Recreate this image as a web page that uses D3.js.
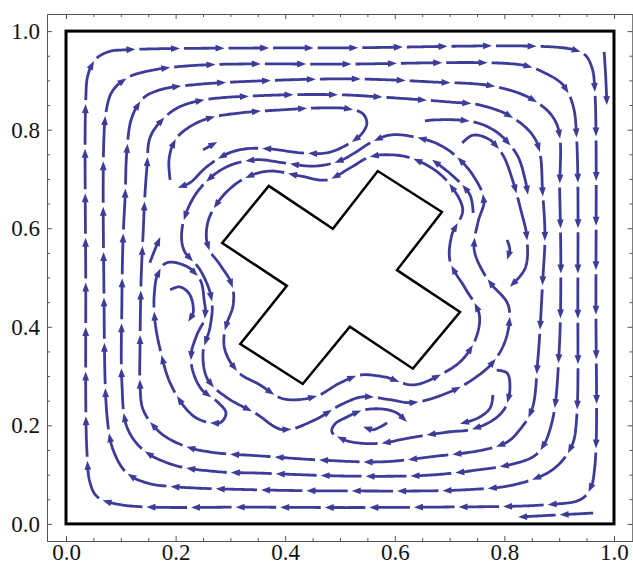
<!DOCTYPE html>
<html>
<head>
<meta charset="utf-8">
<script src="https://cdn.jsdelivr.net/npm/d3@7"></script>
<style>
  html, body { margin: 0; padding: 0; background: #ffffff; }
  svg { display: block; }
</style>
</head>
<body>
<svg id="chart" width="633" height="569"></svg>
<script>
// ---- tick values -------------------------------------------------------
const majorTicks = [0, 0.2, 0.4, 0.6, 0.8, 1.0];
const minorTicks = [0.05, 0.1, 0.15, 0.25, 0.3, 0.35, 0.45, 0.5, 0.55, 0.65, 0.7, 0.75, 0.85, 0.9, 0.95];

// ---- obstacle (cross) outline ------------------------------------------
const obstacle = [
  [0.370, 0.686], [0.487, 0.599], [0.569, 0.716], [0.686, 0.633],
  [0.604, 0.515], [0.719, 0.430], [0.633, 0.315], [0.518, 0.400],
  [0.432, 0.284], [0.318, 0.365], [0.403, 0.483], [0.285, 0.570]
];

// ---- streamlines (ordered along the flow) ------------------------------
const outerRing1 = [[0.036,0.495],[0.036,0.860],[0.040,0.911],[0.053,0.942],[0.077,0.958],[0.108,0.962],[0.500,0.966],[0.920,0.964],[0.947,0.952],[0.960,0.925],[0.965,0.881],[0.967,0.455],[0.965,0.116],[0.956,0.069],[0.938,0.049],[0.878,0.039],[0.664,0.034],[0.354,0.034],[0.099,0.039],[0.057,0.055],[0.044,0.083],[0.038,0.150]];
const outerRing2 = [[0.069,0.495],[0.069,0.779],[0.073,0.836],[0.084,0.877],[0.111,0.905],[0.159,0.921],[0.245,0.931],[0.500,0.933],[0.834,0.931],[0.870,0.917],[0.907,0.891],[0.925,0.850],[0.932,0.779],[0.934,0.455],[0.932,0.217],[0.925,0.164],[0.907,0.130],[0.878,0.103],[0.816,0.079],[0.724,0.069],[0.500,0.067],[0.354,0.069],[0.203,0.075],[0.148,0.083],[0.111,0.103],[0.086,0.150],[0.075,0.217]];
const outerRing3 = [[0.102,0.455],[0.104,0.576],[0.108,0.668],[0.111,0.755],[0.120,0.824],[0.141,0.864],[0.172,0.881],[0.232,0.891],[0.354,0.899],[0.518,0.903],[0.664,0.897],[0.786,0.887],[0.859,0.856],[0.896,0.810],[0.901,0.668],[0.903,0.495],[0.900,0.353],[0.889,0.217],[0.870,0.156],[0.852,0.136],[0.810,0.120],[0.755,0.110],[0.664,0.099],[0.518,0.097],[0.354,0.103],[0.276,0.106],[0.195,0.120],[0.141,0.150],[0.111,0.197],[0.102,0.286]];
const outerRing4 = [[0.135,0.353],[0.137,0.495],[0.141,0.597],[0.144,0.668],[0.148,0.728],[0.153,0.783],[0.172,0.816],[0.203,0.844],[0.250,0.860],[0.354,0.869],[0.495,0.871],[0.578,0.866],[0.701,0.856],[0.755,0.850],[0.816,0.824],[0.859,0.775],[0.870,0.668],[0.874,0.582],[0.870,0.495],[0.861,0.333],[0.850,0.231],[0.828,0.191],[0.805,0.166],[0.761,0.150],[0.664,0.136],[0.578,0.126],[0.458,0.130],[0.354,0.138],[0.276,0.144],[0.221,0.156],[0.172,0.185],[0.141,0.231],[0.135,0.286]];
const cornerTopRight = [[0.982,0.958],[0.985,0.905],[0.987,0.850]];
const cornerBottomRight = [[0.962,0.022],[0.894,0.018],[0.825,0.014]];

const upperLeftEddy = [[0.190,0.698],[0.188,0.739],[0.199,0.779],[0.226,0.806],[0.263,0.824],[0.318,0.834],[0.391,0.840],[0.464,0.844],[0.518,0.842],[0.542,0.832],[0.549,0.812],[0.536,0.787],[0.509,0.767],[0.476,0.753],[0.427,0.753],[0.372,0.761],[0.327,0.761],[0.290,0.749],[0.254,0.722],[0.226,0.692],[0.204,0.682]];
const upperLeftCore = [[0.250,0.759],[0.263,0.767],[0.276,0.775]];
const upperRightArc = [[0.655,0.818],[0.677,0.820],[0.743,0.816],[0.786,0.795],[0.823,0.749],[0.838,0.698],[0.843,0.668]];
const upperRightHook = [[0.723,0.773],[0.743,0.789],[0.774,0.779],[0.797,0.749],[0.816,0.694],[0.830,0.637],[0.841,0.582],[0.838,0.519],[0.810,0.481]];
const rightEddyCore = [[0.805,0.576],[0.810,0.556],[0.805,0.536]];
const rightInnerDash = [[0.743,0.631],[0.737,0.668],[0.704,0.708],[0.668,0.739]];

const leftEddy = [[0.184,0.530],[0.221,0.522],[0.245,0.495],[0.252,0.455],[0.254,0.420],[0.239,0.384],[0.228,0.343],[0.232,0.308],[0.248,0.272],[0.276,0.248],[0.292,0.225],[0.281,0.205],[0.245,0.211],[0.221,0.231],[0.190,0.286],[0.172,0.353],[0.162,0.414],[0.161,0.465],[0.168,0.509]];
const leftEddyCore = [[0.190,0.475],[0.208,0.481],[0.226,0.465],[0.232,0.428],[0.223,0.410]];
const leftDash = [[0.153,0.530],[0.162,0.556],[0.172,0.582]];

const lowerEddy = [[0.786,0.312],[0.805,0.306],[0.810,0.272],[0.801,0.235],[0.777,0.209],[0.737,0.191],[0.701,0.187],[0.651,0.179],[0.615,0.172],[0.578,0.164],[0.536,0.164],[0.504,0.172],[0.485,0.187],[0.491,0.203],[0.513,0.217],[0.542,0.231],[0.578,0.233],[0.604,0.225],[0.622,0.207]];
const lowerRightArc = [[0.779,0.262],[0.774,0.235],[0.752,0.215],[0.719,0.203]];
const lowerEddyCore = [[0.586,0.205],[0.560,0.191],[0.542,0.197]];

const innerLoop1 = [[0.724,0.637],[0.701,0.688],[0.673,0.718],[0.628,0.743],[0.591,0.749],[0.555,0.745],[0.518,0.722],[0.476,0.698],[0.427,0.706],[0.372,0.716],[0.327,0.702],[0.285,0.664],[0.259,0.613],[0.259,0.562],[0.281,0.526],[0.303,0.485],[0.305,0.444],[0.290,0.394],[0.290,0.353],[0.314,0.308],[0.354,0.282],[0.396,0.254],[0.454,0.258],[0.500,0.286],[0.536,0.302],[0.582,0.298],[0.633,0.282],[0.682,0.302],[0.723,0.333],[0.748,0.377],[0.754,0.426],[0.728,0.479],[0.701,0.532],[0.704,0.586]];
const innerLoop2 = [[0.763,0.657],[0.748,0.698],[0.719,0.739],[0.682,0.769],[0.637,0.785],[0.591,0.789],[0.555,0.773],[0.527,0.753],[0.496,0.735],[0.451,0.726],[0.396,0.733],[0.345,0.739],[0.296,0.726],[0.259,0.698],[0.230,0.657],[0.212,0.601],[0.215,0.556],[0.245,0.515],[0.266,0.455],[0.263,0.400],[0.250,0.347],[0.259,0.292],[0.294,0.256],[0.345,0.225],[0.396,0.191],[0.454,0.211],[0.500,0.241],[0.542,0.258],[0.591,0.252],[0.633,0.246],[0.701,0.268],[0.746,0.296],[0.783,0.333],[0.805,0.384],[0.807,0.444],[0.770,0.495],[0.745,0.556],[0.752,0.613]];

const streamlines = [
  { pts: outerRing1, closed: true },
  { pts: outerRing2, closed: true },
  { pts: outerRing3, closed: true },
  { pts: outerRing4, closed: true },
  { pts: cornerTopRight, closed: false },
  { pts: cornerBottomRight, closed: false },
  { pts: upperLeftEddy, closed: false },
  { pts: upperLeftCore, closed: false },
  { pts: upperRightArc, closed: false },
  { pts: upperRightHook, closed: false },
  { pts: rightEddyCore, closed: false },
  { pts: rightInnerDash, closed: false },
  { pts: leftEddy, closed: true },
  { pts: leftEddyCore, closed: false },
  { pts: leftDash, closed: false },
  { pts: lowerEddy, closed: false },
  { pts: lowerRightArc, closed: false },
  { pts: lowerEddyCore, closed: false },
  { pts: innerLoop1, closed: true },
  { pts: innerLoop2, closed: true }
];

// ---- layout ------------------------------------------------------------
const svg = d3.select("#chart");
const plotDomain = [-0.0347, 1.0347];
const x = d3.scaleLinear().domain(plotDomain).range([47, 633]);
const y = d3.scaleLinear().domain(plotDomain).range([541, 14]);

const STREAM_COLOR = "#3d3d99";
const PERIOD = 45;   // arrow spacing along a streamline (px)
const GAP = 4;       // blank between consecutive arrows
const HEAD = 9;      // arrowhead length
const HW = 3.4;      // arrowhead half width

const streamLayer = svg.append("g").attr("class", "streams");

function guideGenerator(closed) {
  return d3.line()
    .x(d => x(d[0]))
    .y(d => y(d[1]))
    .curve(closed ? d3.curveCatmullRomClosed.alpha(0.5) : d3.curveCatmullRom.alpha(0.5));
}
const pixelLine = d3.line().x(p => p.x).y(p => p.y);

function drawStreamline(line, k) {
  const guide = streamLayer.append("path")
    .attr("d", guideGenerator(line.closed)(line.pts))
    .attr("fill", "none").attr("stroke", "none");
  const node = guide.node();
  const L = node.getTotalLength();
  const n = Math.max(1, Math.round(L / PERIOD));
  const seg = L / n;
  const shift = line.closed ? ((k * 0.618) % 1) * seg : 0;
  const at = s => {
    const t = line.closed ? ((s % L) + L) % L : Math.max(0, Math.min(L, s));
    return node.getPointAtLength(t);
  };
  for (let i = 0; i < n; i++) {
    const s0 = shift + i * seg;
    const s1 = (!line.closed && i === n - 1) ? L : s0 + seg - GAP;
    const bodyEnd = Math.max(s0, s1 - HEAD * 0.7);
    const body = [];
    for (let s = s0; s < bodyEnd; s += 2) body.push(at(s));
    body.push(at(bodyEnd));
    streamLayer.append("path")
      .attr("d", pixelLine(body))
      .attr("fill", "none")
      .attr("stroke", STREAM_COLOR)
      .attr("stroke-width", 2.8)
      .attr("stroke-linecap", "butt");
    const tip = at(s1), back = at(s1 - HEAD);
    let dx = tip.x - back.x, dy = tip.y - back.y;
    const len = Math.hypot(dx, dy) || 1;
    dx /= len; dy /= len;
    const bx = tip.x - dx * HEAD, by = tip.y - dy * HEAD;
    streamLayer.append("path")
      .attr("d", `M${tip.x},${tip.y}L${bx - dy * HW},${by + dx * HW}L${bx + dy * HW},${by - dx * HW}Z`)
      .attr("fill", STREAM_COLOR);
  }
  guide.remove();
}

streamlines.forEach((line, k) => drawStreamline(line, k));

// ---- obstacle and region boundary --------------------------------------
svg.append("path")
  .attr("d", d3.line().x(d => x(d[0])).y(d => y(d[1])).curve(d3.curveLinearClosed)(obstacle))
  .attr("fill", "#ffffff")
  .attr("stroke", "#000000")
  .attr("stroke-width", 2.5)
  .attr("stroke-linejoin", "miter");

svg.append("rect")
  .attr("x", x(0)).attr("y", y(1))
  .attr("width", x(1) - x(0)).attr("height", y(0) - y(1))
  .attr("fill", "none")
  .attr("stroke", "#000000")
  .attr("stroke-width", 3);

// ---- frame with inward ticks -------------------------------------------
const FRAME = "#555555";
const fmt = d3.format(".1f");
function styleAxis(g) {
  g.selectAll("path.domain").attr("stroke", FRAME).attr("stroke-width", 1);
  g.selectAll(".tick line").attr("stroke", FRAME).attr("stroke-width", 1);
  g.selectAll("text")
    .attr("fill", "#111111")
    .style("font-family", "'Liberation Serif', 'Times New Roman', serif")
    .style("font-size", "23px");
}
const frame = svg.append("g").attr("class", "frame");

frame.append("g").attr("transform", `translate(${x.range()[0]},0)`)
  .call(d3.axisLeft(y).tickValues(majorTicks).tickFormat(fmt).tickSizeInner(-5).tickSizeOuter(0).tickPadding(7))
  .call(styleAxis);
frame.append("g").attr("transform", `translate(${x.range()[0]},0)`)
  .call(d3.axisLeft(y).tickValues(minorTicks).tickFormat("").tickSizeInner(-3).tickSizeOuter(0))
  .call(styleAxis);

frame.append("g").attr("transform", `translate(0,${y.range()[0]})`)
  .call(d3.axisBottom(x).tickValues(majorTicks).tickFormat(fmt).tickSizeInner(-5).tickSizeOuter(0).tickPadding(3))
  .call(styleAxis);
frame.append("g").attr("transform", `translate(0,${y.range()[0]})`)
  .call(d3.axisBottom(x).tickValues(minorTicks).tickFormat("").tickSizeInner(-3).tickSizeOuter(0))
  .call(styleAxis);

frame.append("g").attr("transform", `translate(0,${y.range()[1]})`)
  .call(d3.axisTop(x).tickValues(majorTicks).tickFormat("").tickSizeInner(-5).tickSizeOuter(0))
  .call(styleAxis);
frame.append("g").attr("transform", `translate(0,${y.range()[1]})`)
  .call(d3.axisTop(x).tickValues(minorTicks).tickFormat("").tickSizeInner(-3).tickSizeOuter(0))
  .call(styleAxis);

frame.append("g").attr("transform", `translate(${x.range()[1] - 0.5},0)`)
  .call(d3.axisRight(y).tickValues(majorTicks).tickFormat("").tickSizeInner(-5).tickSizeOuter(0))
  .call(styleAxis);
frame.append("g").attr("transform", `translate(${x.range()[1] - 0.5},0)`)
  .call(d3.axisRight(y).tickValues(minorTicks).tickFormat("").tickSizeInner(-3).tickSizeOuter(0))
  .call(styleAxis);
</script>
</body>
</html>
